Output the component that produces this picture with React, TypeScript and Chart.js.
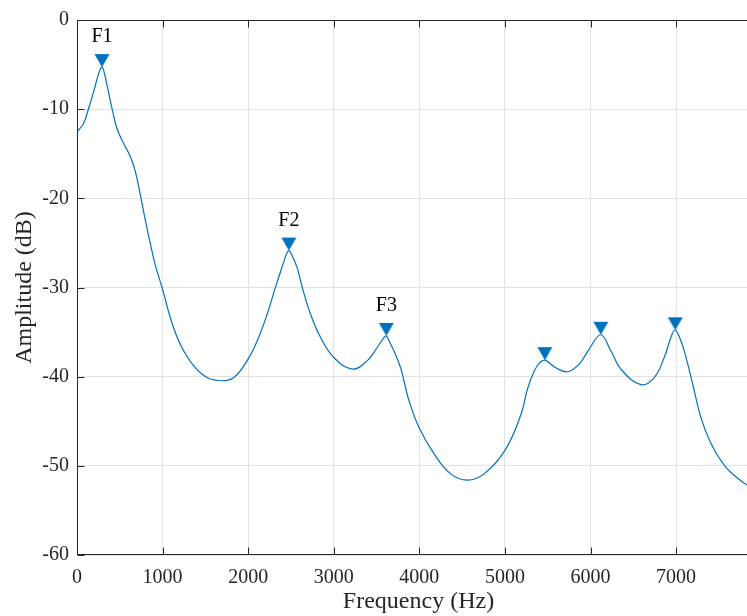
import React, { useEffect, useRef } from 'react';
import { Chart, registerables } from 'chart.js';

Chart.register(...registerables);

// Spectrum envelope (frequency in Hz, amplitude in dB)
const frequencyHz = [
  0, 77, 136, 194, 234, 265, 292, 320, 351, 409, 468, 545, 623, 682, 740, 799, 857, 915,
  1000, 1091, 1208, 1364, 1520, 1696, 1832, 1988, 2105, 2222, 2319, 2417, 2445, 2475, 2510,
  2573, 2632, 2729, 2846, 3001, 3216, 3392, 3509, 3580, 3614, 3666, 3703, 3781, 3820, 3879, 3996,
  4171, 4366, 4561, 4756, 4998, 5185, 5263, 5341, 5400, 5466, 5594, 5731, 5867, 5984, 6120, 6237,
  6354, 6588, 6744, 6861, 6950, 6990, 7040, 7095, 7193, 7290, 7407, 7563, 7719, 7840, 7980,
];
const amplitudeDb = [
  -12.55, -11.6, -9.9, -8.07, -6.6, -5.7, -5.28, -5.95, -7.33, -9.9, -12.2, -13.85, -15.3, -17.0,
  -19.6, -22.5, -25.1, -27.5, -30.2, -33.4, -36.4, -38.8, -40.1, -40.46, -40.1, -38.2, -36.0,
  -33.0, -29.96, -27.1, -26.3, -25.86, -26.35, -27.8, -30.0, -33.0, -35.6, -37.85, -39.15, -38.2,
  -36.7, -35.7, -35.43, -36.4, -37.1, -39.0, -40.46, -42.7, -45.7, -48.64, -50.9, -51.6, -50.9, -48.3,
  -44.3, -41.4, -39.4, -38.5, -38.15, -39.0, -39.45, -38.6, -36.9, -35.3, -37.1, -39.15, -40.9, -40.1,
  -37.85, -35.3, -34.8, -35.6, -37.1, -40.8, -44.6, -47.5, -49.95, -51.4, -52.2, -52.7,
];

// Detected peaks
const peakFrequencyHz = [292, 2475, 3614, 5466, 6120, 6990];
const peakAmplitudeDb = [-5.28, -25.86, -35.43, -38.15, -35.3, -34.8];
const formantLabels = ['F1', 'F2', 'F3'];

// Axis ticks
const xTickValues = [0, 1000, 2000, 3000, 4000, 5000, 6000, 7000];
const yTickValues = [0, -10, -20, -30, -40, -50, -60];

const LINE_COLOR = '#0072BD';
const AXIS_COLOR = '#262626';
const FONT_FAMILY = "'Liberation Serif', 'Times New Roman', serif";
const LABEL_OFFSET_DB = 3.4;

function makeMarker(): HTMLCanvasElement {
  const c = document.createElement('canvas');
  c.width = 16;
  c.height = 28;
  const ctx = c.getContext('2d')!;
  ctx.fillStyle = LINE_COLOR;
  ctx.beginPath();
  ctx.moveTo(0.5, 1);
  ctx.lineTo(15.5, 1);
  ctx.lineTo(8, 14);
  ctx.closePath();
  ctx.fill();
  return c;
}

const axesPlugin = {
  id: 'matlabAxes',
  afterDatasetsDraw(chart: any) {
    const { ctx } = chart;
    const xs = chart.scales.x;
    const ys = chart.scales.y;
    ctx.save();
    ctx.fillStyle = '#000';
    ctx.font = `20px ${FONT_FAMILY}`;
    ctx.textAlign = 'center';
    ctx.textBaseline = 'middle';
    formantLabels.forEach((lab, i) => {
      const px = xs.getPixelForValue(peakFrequencyHz[i]);
      const py = ys.getPixelForValue(peakAmplitudeDb[i] + LABEL_OFFSET_DB);
      ctx.fillText(lab, px, py);
    });
    ctx.restore();
  },
  afterDraw(chart: any) {
    const { ctx, chartArea } = chart;
    const xs = chart.scales.x;
    const ys = chart.scales.y;
    const l = Math.round(chartArea.left) + 0.5;
    const r = Math.round(chartArea.right) - 0.5;
    const t = Math.round(chartArea.top) + 0.5;
    const b = Math.round(chartArea.bottom) - 0.5;
    ctx.save();
    ctx.strokeStyle = AXIS_COLOR;
    ctx.lineWidth = 1;
    ctx.beginPath();
    ctx.moveTo(l, b);
    ctx.lineTo(l, t);
    ctx.lineTo(r, t);
    ctx.lineTo(r, b);
    ctx.closePath();
    ctx.stroke();
    const tl = 7;
    ctx.beginPath();
    xTickValues.forEach((v) => {
      const px = Math.round(xs.getPixelForValue(v)) + 0.5;
      ctx.moveTo(px, b);
      ctx.lineTo(px, b - tl);
      ctx.moveTo(px, t);
      ctx.lineTo(px, t + tl);
    });
    yTickValues.forEach((v) => {
      const py = Math.round(ys.getPixelForValue(v)) + 0.5;
      ctx.moveTo(l, py);
      ctx.lineTo(l + tl, py);
      ctx.moveTo(r, py);
      ctx.lineTo(r - tl, py);
    });
    ctx.stroke();
    ctx.restore();
  },
};

export default function App() {
  const canvasRef = useRef<HTMLCanvasElement | null>(null);

  useEffect(() => {
    const canvas = canvasRef.current;
    if (!canvas) return;
    const marker = makeMarker();
    const tickFont = { family: FONT_FAMILY, size: 20 };
    const titleFont = { family: FONT_FAMILY, size: 24 };
    const chart = new Chart(canvas, {
      type: 'line',
      data: {
        datasets: [
          {
            data: frequencyHz.map((f, i) => ({ x: f, y: amplitudeDb[i] })),
            borderColor: LINE_COLOR,
            borderWidth: 1.2,
            pointRadius: 0,
            tension: 0.4,
            fill: false,
          },
          {
            data: peakFrequencyHz.map((f, i) => ({ x: f, y: peakAmplitudeDb[i] })),
            showLine: false,
            pointStyle: marker as any,
            pointRadius: 8,
            borderWidth: 0,
            backgroundColor: LINE_COLOR,
            borderColor: LINE_COLOR,
          },
        ],
      } as any,
      options: {
        animation: false,
        responsive: false,
        maintainAspectRatio: false,
        events: [],
        layout: { padding: { top: 18, right: 10, left: 0, bottom: 0 } },
        plugins: { legend: { display: false }, tooltip: { enabled: false } },
        scales: {
          x: {
            type: 'linear',
            min: 0,
            max: 7980,
            afterFit: (s: any) => {
              s.height = 61;
            },
            afterBuildTicks: (s: any) => {
              s.ticks = xTickValues.map((v) => ({ value: v }));
            },
            ticks: {
              font: tickFont,
              color: AXIS_COLOR,
              padding: 11,
              maxRotation: 0,
              autoSkip: false,
              includeBounds: false,
              callback: (v: any) => String(v),
            },
            grid: { color: '#e3e3e3', drawTicks: false, tickLength: 0 },
            border: { display: false },
            title: {
              display: true,
              text: 'Frequency (Hz)',
              font: titleFont,
              color: AXIS_COLOR,
              padding: { top: 0, bottom: 0 },
            },
          },
          y: {
            type: 'linear',
            min: -60,
            max: 0,
            afterFit: (s: any) => {
              s.width = 77;
            },
            afterBuildTicks: (s: any) => {
              s.ticks = yTickValues.map((v) => ({ value: v }));
            },
            ticks: {
              font: tickFont,
              color: AXIS_COLOR,
              padding: 8,
              autoSkip: false,
              includeBounds: false,
              callback: (v: any) => String(v),
            },
            grid: { color: '#e3e3e3', drawTicks: false, tickLength: 0 },
            border: { display: false },
            title: {
              display: true,
              text: 'Amplitude (dB)',
              font: titleFont,
              color: AXIS_COLOR,
              padding: { top: 10, bottom: 0 },
            },
          },
        },
      } as any,
      plugins: [axesPlugin],
    });
    return () => chart.destroy();
  }, []);

  return (
    <div
      style={{
        position: 'fixed',
        left: 0,
        top: 0,
        width: 747,
        height: 616,
        overflow: 'hidden',
        background: '#fff',
      }}
    >
      <canvas ref={canvasRef} width={770} height={616} style={{ display: 'block', width: 770, height: 616 }} />
    </div>
  );
}
